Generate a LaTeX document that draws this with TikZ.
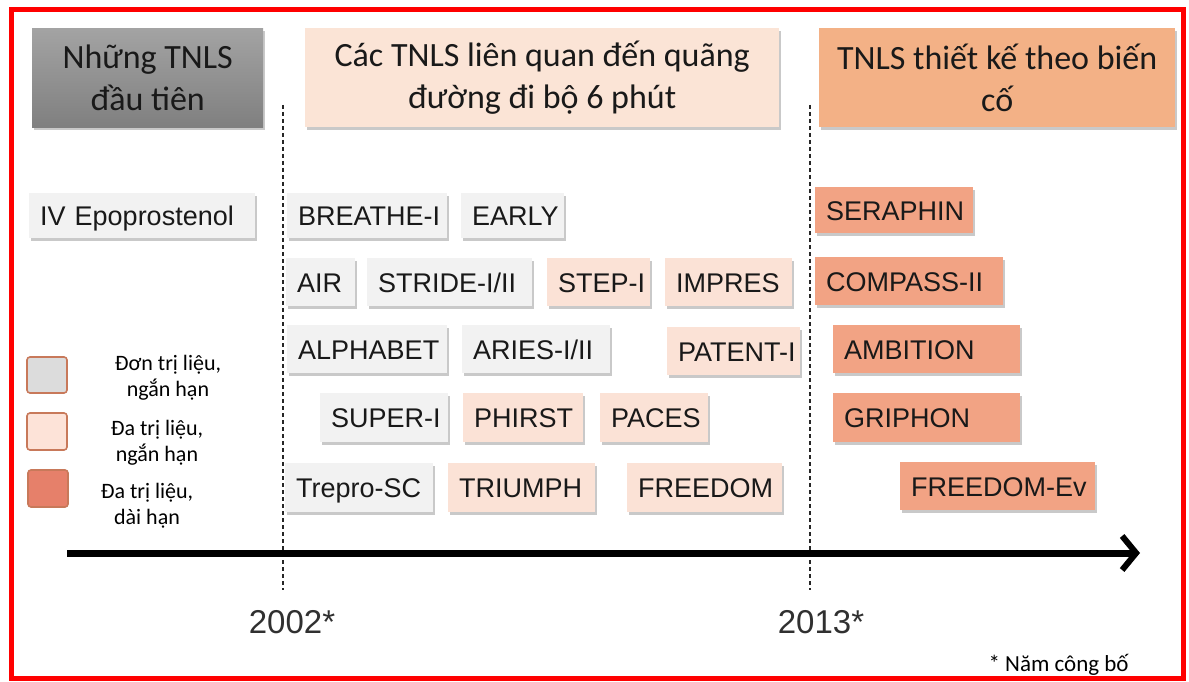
\documentclass[tikz,border=0pt]{standalone}
\usepackage{fontspec}
\setmainfont{Carlito}
\newfontfamily\labelfont{Liberation Sans}
\usetikzlibrary{arrows.meta,shadows}

\definecolor{grayitem}{HTML}{F2F2F2}
\definecolor{peachitem}{HTML}{FBE2D6}
\definecolor{orangeitem}{HTML}{F2A384}
\definecolor{headpeach}{HTML}{FBE4D6}
\definecolor{headorange}{HTML}{F3B186}
\definecolor{legendedge}{HTML}{C8795A}
\definecolor{legendgray}{HTML}{DCDCDC}
\definecolor{legendlight}{HTML}{FDE3D8}
\definecolor{legenddark}{HTML}{E6806A}
\definecolor{textgray}{HTML}{303030}

\tikzset{
  softshadow/.style={drop shadow={shadow xshift=2pt, shadow yshift=-3pt, opacity=0.35, fill=black!60}},
  header/.style={rectangle, anchor=north west, align=center, softshadow,
    font=\fontsize{34}{42}\selectfont, text=black!90, inner sep=0pt},
  item/.style={rectangle, anchor=north west, align=left, softshadow, inner xsep=11pt, inner ysep=0pt,
    font=\labelfont\fontsize{27}{27}\selectfont, text=black!90, text height=20pt, text depth=0pt},
  grayb/.style={item, fill=grayitem},
  peachb/.style={item, fill=peachitem},
  orangeb/.style={item, fill=orangeitem},
  legendsq/.style={draw=legendedge, line width=1.6pt, rounded corners=3pt},
  legendtxt/.style={align=center, font=\fontsize{22}{26}\selectfont, text=black},
  divider/.style={draw=black!85, line width=1.3pt, dash pattern=on 4pt off 3pt},
  year/.style={font=\labelfont\fontsize{33}{33}\selectfont, text=textgray},
}

% one item box: name, style, x1, y1, x2, y2, text
\newcommand\itembox[7]{%
  \pgfmathsetmacro\bw{#5-#3}%
  \pgfmathsetmacro\bh{#6-#4}%
  \pgfmathsetmacro\tw{#5-#3-22}%
  \node[#2, minimum width=\bw pt, minimum height=\bh pt, text width=\tw pt] (#1) at (#3,#4) {\mbox{#7}};%
}

\begin{document}
\begin{tikzpicture}[x=1pt,y=-1pt]
\useasboundingbox (0,0) rectangle (1189,682);
\fill[white] (0,0) rectangle (1189,682);

% frame
\draw[red, line width=5pt] (11,10) rectangle (1183,678);

% dividers between periods
\coordinate (d1t) at (283,105);
\coordinate (d1b) at (283,590);
\coordinate (d2t) at (810,105);
\coordinate (d2b) at (810,590);
\draw[divider] (d1t) -- (d1b);
\draw[divider] (d2t) -- (d2b);

% period headers
\node[header, top color=black!36, bottom color=black!50, minimum width=231pt, minimum height=99pt] (h1) at (32,28) {Những TNLS\\đầu tiên};
\node[header, fill=headpeach, minimum width=474pt, minimum height=99pt] (h2) at (305,28) {Các TNLS liên quan đến quãng\\đường đi bộ 6 phút};
\node[header, fill=headorange, minimum width=356pt, minimum height=99pt] (h3) at (819,28) {TNLS thiết kế theo biến\\cố};

% row 1
\itembox{ivepo}{grayb}{29}{193}{255}{238}{IV Epoprostenol}
\itembox{breathe}{grayb}{287}{193}{447}{238}{BREATHE-I}
\itembox{early}{grayb}{461}{193}{564}{238}{EARLY}
\itembox{seraphin}{orangeb}{815}{187}{973}{233}{SERAPHIN}

% row 2
\itembox{air}{grayb}{286}{258}{355}{306}{AIR}
\itembox{stride}{grayb}{367}{258}{532}{306}{STRIDE-I/II}
\itembox{step}{peachb}{547}{258}{650}{306}{STEP-I}
\itembox{impres}{peachb}{665}{258}{792}{306}{IMPRES}
\itembox{compass}{orangeb}{815}{257}{1003}{305}{COMPASS-II}

% row 3
\itembox{alphabet}{grayb}{287}{325}{447}{373}{ALPHABET}
\itembox{aries}{grayb}{462}{325}{610}{373}{ARIES-I/II}
\itembox{patent}{peachb}{667}{327}{800}{375}{PATENT-I}
\itembox{ambition}{orangeb}{833}{325}{1020}{373}{AMBITION}

% row 4
\itembox{super}{grayb}{320}{393}{448}{442}{SUPER-I}
\itembox{phirst}{peachb}{463}{393}{583}{442}{PHIRST}
\itembox{paces}{peachb}{600}{393}{708}{442}{PACES}
\itembox{griphon}{orangeb}{833}{393}{1020}{442}{GRIPHON}

% row 5
\itembox{trepro}{grayb}{285}{463}{433}{512}{Trepro-SC}
\itembox{triumph}{peachb}{448}{463}{595}{512}{TRIUMPH}
\itembox{freedom}{peachb}{627}{463}{782}{512}{FREEDOM}
\itembox{freedomev}{orangeb}{900}{462}{1095}{510}{FREEDOM-Ev}

% legend
\filldraw[legendsq, fill=legendgray] (27,357) rectangle (67,393);
\filldraw[legendsq, fill=legendlight] (27,413) rectangle (67,450);
\filldraw[legendsq, fill=legenddark] (28,470) rectangle (68,507);
\node[legendtxt] (lg1) at (168,378) {Đơn trị liệu,\\ngắn hạn};
\node[legendtxt] (lg2) at (157,443) {Đa trị liệu,\\ngắn hạn};
\node[legendtxt] (lg3) at (147,506) {Đa trị liệu,\\dài hạn};

% time axis
\coordinate (axs) at (67,553);
\coordinate (axe) at (1140,553);
\draw[line width=7pt, -{Straight Barb[length=14pt, width=34pt, line width=6pt]}] (axs) -- (axe);

% years
\node[year] (y2002) at (292,622) {2002*};
\node[year] (y2013) at (821,622) {2013*};
\node[font=\fontsize{23}{23}\selectfont, anchor=west] (note) at (985,665) {* Năm công bố};
\end{tikzpicture}
\end{document}
